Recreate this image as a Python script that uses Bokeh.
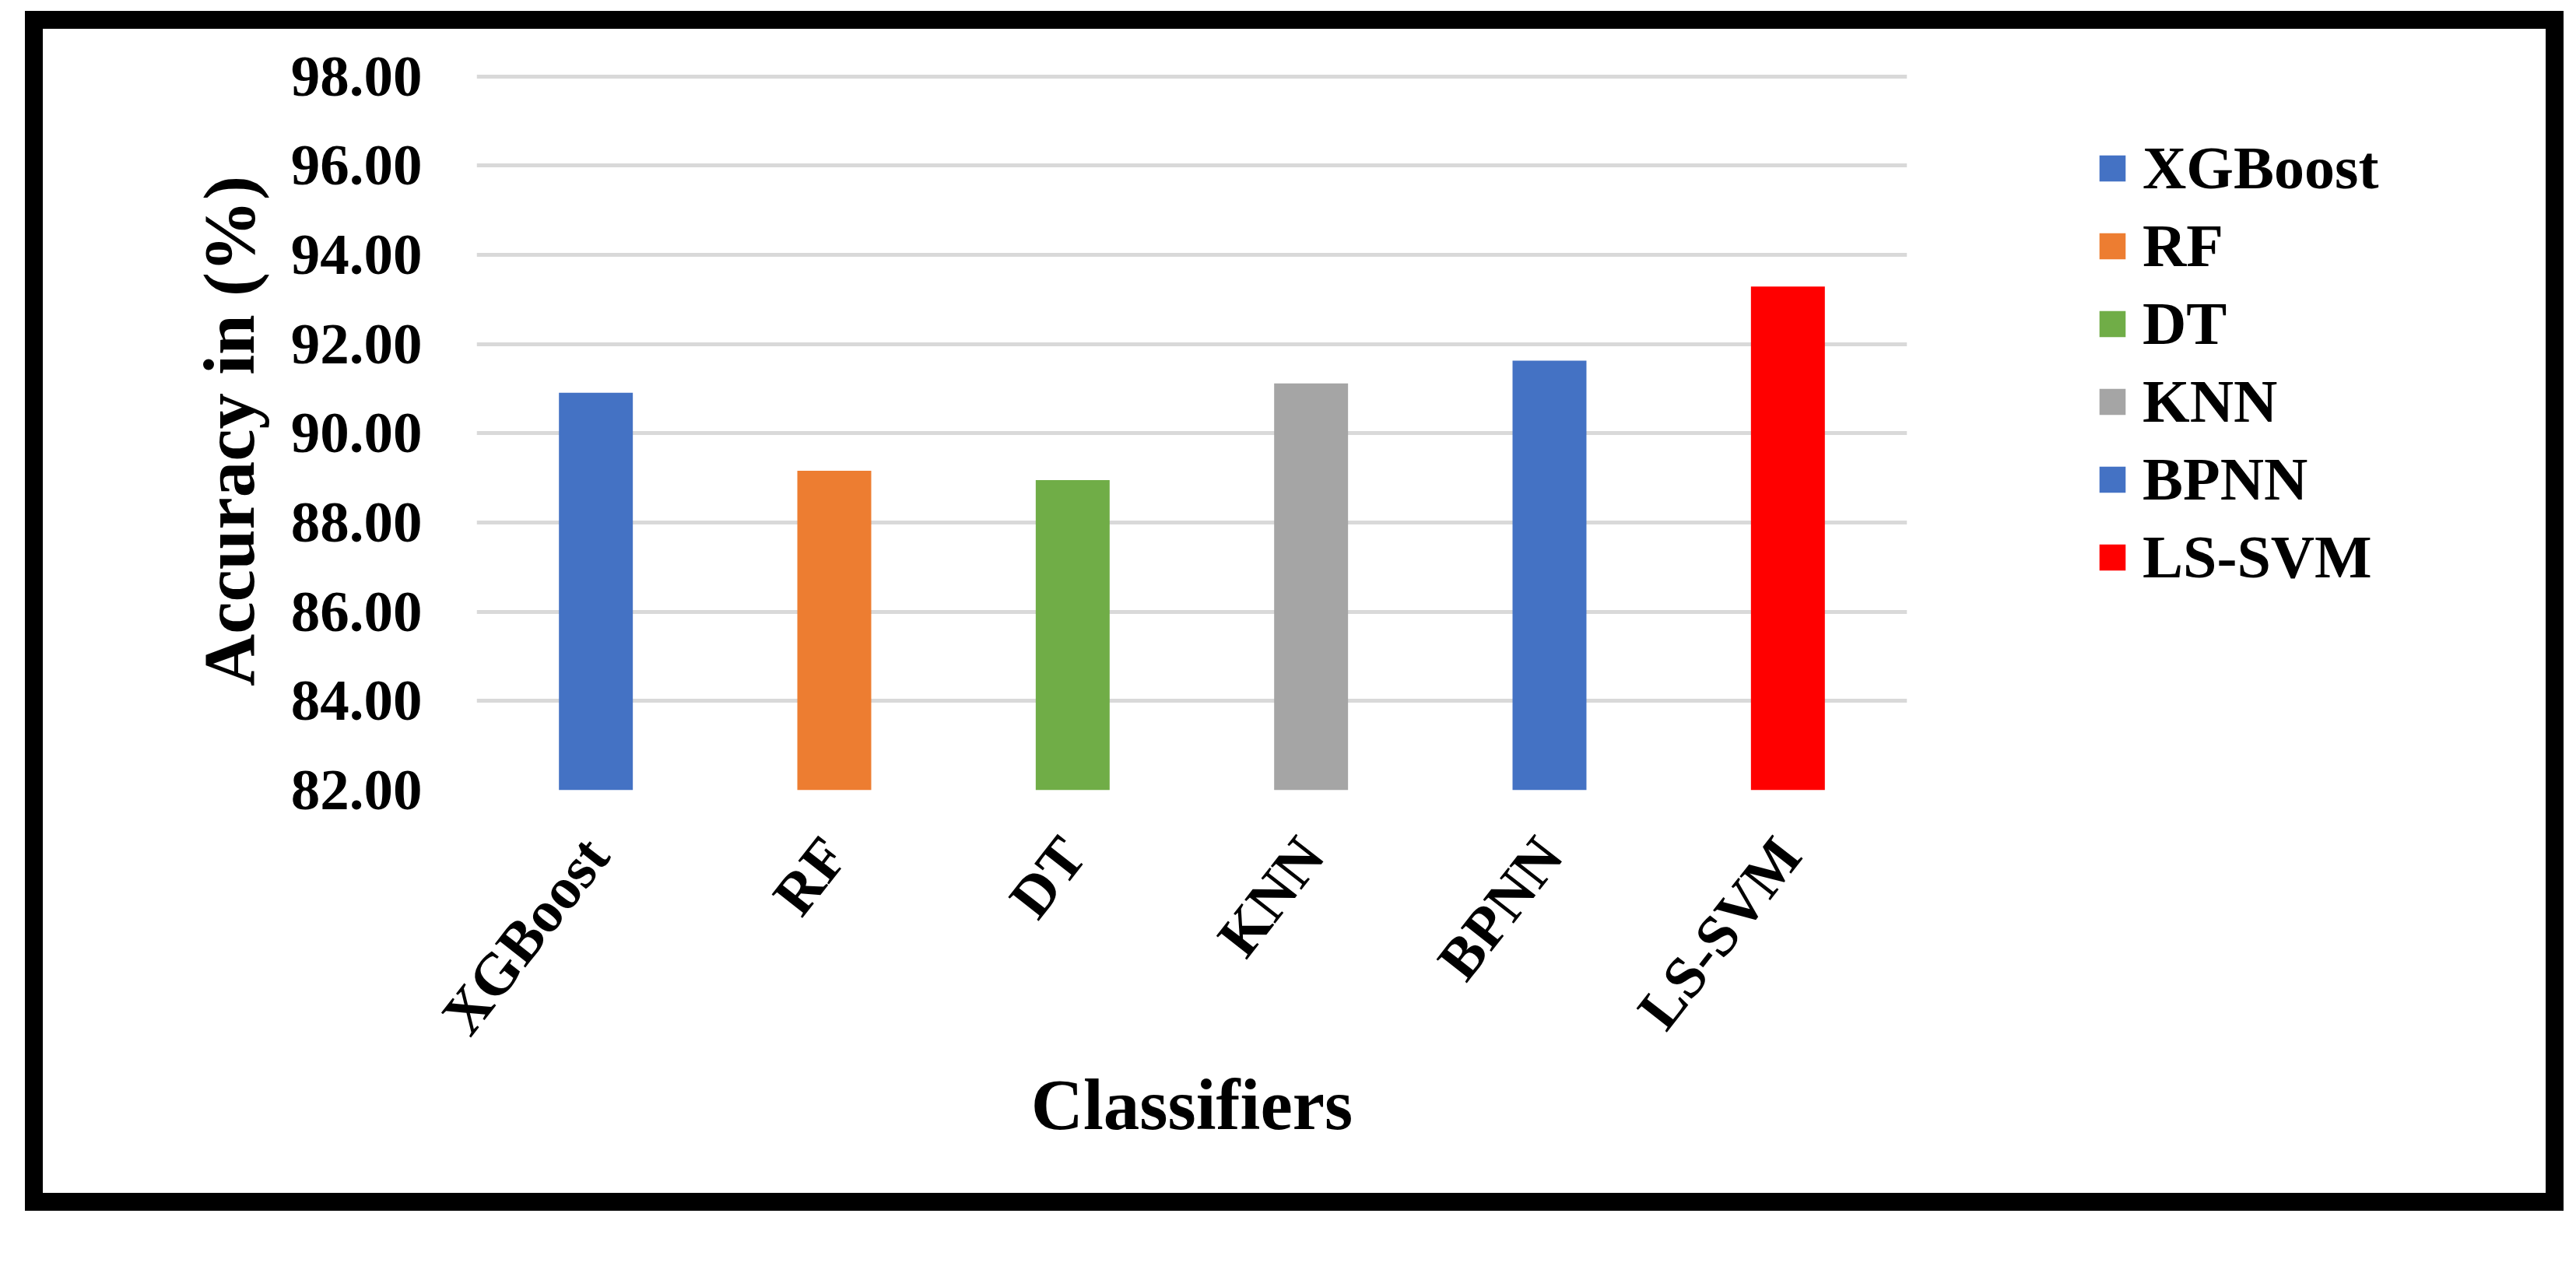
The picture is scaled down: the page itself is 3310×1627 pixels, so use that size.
from bokeh.plotting import figure
from bokeh.models import ColumnDataSource, FixedTicker, NumeralTickFormatter, Legend, LegendItem
from bokeh.layouts import column
from bokeh.embed import file_html
from bokeh.resources import INLINE
import math

classifiers = ["XGBoost", "RF", "DT", "KNN", "BPNN", "LS-SVM"]
accuracy = [90.91, 89.16, 88.95, 91.12, 91.63, 93.29]
colors = ["#4472C4", "#ED7D31", "#70AD47", "#A5A5A5", "#4472C4", "#FF0000"]
y_ticks = [82, 84, 86, 88, 90, 92, 94, 96, 98]

FONT = "Liberation Serif"

source = ColumnDataSource(data=dict(classifier=classifiers, accuracy=accuracy, color=colors))

p = figure(
    x_range=classifiers, y_range=(82, 98.1),
    frame_width=1838, frame_height=923,
    min_border_left=557, min_border_right=793, min_border_top=55, min_border_bottom=518,
    output_backend="svg", toolbar_location=None,
)

r = p.vbar(x="classifier", top="accuracy", bottom=82, width=0.31, color="color", line_color=None, source=source)

p.outline_line_color = None
p.xgrid.grid_line_color = None
p.ygrid.grid_line_color = "#D9D9D9"
p.ygrid.grid_line_width = 5
p.ygrid.ticker = FixedTicker(ticks=y_ticks)

p.yaxis.ticker = FixedTicker(ticks=y_ticks)
p.yaxis.formatter = NumeralTickFormatter(format="0.00")
for ax in (p.xaxis[0], p.yaxis[0]):
    ax.axis_line_color = None
    ax.major_tick_line_color = None
    ax.minor_tick_line_color = None
    ax.major_tick_out = 0
    ax.major_tick_in = 0
    ax.major_label_text_font = FONT
    ax.major_label_text_font_style = "bold"
    ax.major_label_text_color = "black"
    ax.axis_label_text_font = FONT
    ax.axis_label_text_font_style = "bold"
    ax.axis_label_text_color = "black"
    ax.axis_label_text_font_size = "93px"

p.yaxis.major_label_text_font_size = "75px"
p.yaxis.major_label_standoff = 70
p.yaxis.axis_label = "Accuracy in (%)"
p.yaxis.axis_label_standoff = 25

p.xaxis.major_label_text_font_size = "76px"
p.xaxis.major_label_orientation = math.radians(52)
p.xaxis.major_label_standoff = 70
p.xaxis.axis_label = "Classifiers"
p.xaxis.axis_label_standoff = -5

items = [LegendItem(label=c, renderers=[r], index=i) for i, c in enumerate(classifiers)]
legend = Legend(
    items=items, location=(243, 254),
    glyph_width=42, glyph_height=42, label_standoff=18, spacing=10,
    label_text_font=FONT, label_text_font_style="bold", label_text_font_size="78px",
    label_text_color="black", padding=0, margin=0,
    border_line_color=None, background_fill_alpha=0,
)
p.add_layout(legend, "right")

layout = column(p, margin=(14, 0, 0, 32), styles={"border": "23px solid black"})

open("out.html", "w").write(file_html(layout, INLINE))
